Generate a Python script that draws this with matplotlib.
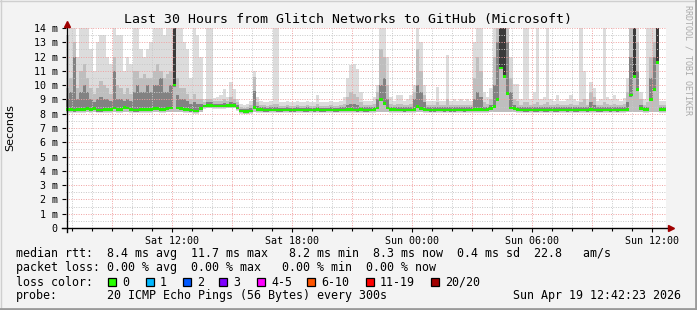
import numpy as np
import matplotlib
matplotlib.use("Agg")
import matplotlib.pyplot as plt
from matplotlib.lines import Line2D
from matplotlib.patches import Rectangle

# ---------------- data (10-minute bins, 30 hours starting Sat 06:42) ----------------
median = [
    8.3, 8.3, 8.25, 8.3, 8.3, 8.3, 8.35, 8.3, 8.35, 8.25,
    8.25, 8.3, 8.3, 8.3, 8.4, 8.3, 8.3, 8.45, 8.4, 8.3,
    8.25, 8.25, 8.3, 8.3, 8.3, 8.3, 8.35, 8.35, 8.3, 8.3,
    8.35, 8.4, 10.0, 8.4, 8.35, 8.3, 8.3, 8.25, 8.2, 8.2,
    8.35, 8.55, 8.58, 8.58, 8.55, 8.55, 8.55, 8.55, 8.57, 8.57,
    8.57, 8.4, 8.2, 8.15, 8.15, 8.2, 8.45, 8.3, 8.3, 8.25,
    8.25, 8.27, 8.27, 8.25, 8.25, 8.27, 8.27, 8.25, 8.25, 8.27,
    8.27, 8.25, 8.25, 8.27, 8.25, 8.3, 8.25, 8.25, 8.27, 8.27,
    8.25, 8.25, 8.27, 8.27, 8.3, 8.3, 8.27, 8.25, 8.3, 8.25,
    8.25, 8.27, 8.3, 8.4, 9.0, 8.7, 8.4, 8.3, 8.3, 8.27,
    8.27, 8.25, 8.27, 8.27, 8.3, 8.5, 8.35, 8.3, 8.27, 8.25,
    8.25, 8.27, 8.27, 8.25, 8.27, 8.25, 8.25, 8.27, 8.27, 8.25,
    8.27, 8.27, 8.3, 8.3, 8.3, 8.27, 8.3, 8.35, 8.5, 9.0,
    11.2, 10.6, 9.4, 8.4, 8.35, 8.3, 8.27, 8.25, 8.25, 8.27,
    8.25, 8.25, 8.27, 8.25, 8.25, 8.27, 8.25, 8.25, 8.27, 8.27,
    8.25, 8.27, 8.25, 8.25, 8.27, 8.27, 8.25, 8.3, 8.27, 8.25,
    8.25, 8.27, 8.27, 8.25, 8.27, 8.25, 8.27, 8.27, 8.3, 9.3,
    10.6, 9.7, 8.35, 8.3, 8.3, 9.0, 9.7, 11.6, 8.3, 8.3,
]

smoke_low = [
    8.05, 8.05, 8.05, 8.05, 8.05, 8.05, 8.1, 8.05, 8.1, 8.05,
    8.05, 8.05, 8.05, 8.05, 8.1, 8.05, 8.05, 8.1, 8.1, 8.05,
    8.05, 8.05, 8.05, 8.05, 8.05, 8.05, 8.1, 8.1, 8.05, 8.05,
    8.1, 8.1, 8.1, 8.1, 8.1, 8.05, 8.05, 8.05, 8.0, 8.0,
    8.1, 8.35, 8.38, 8.38, 8.35, 8.35, 8.35, 8.35, 8.37, 8.37,
    8.37, 8.2, 8.0, 7.95, 7.95, 8.0, 8.1, 8.05, 8.05, 8.05,
    8.05, 8.05, 8.05, 8.05, 8.05, 8.05, 8.05, 8.05, 8.05, 8.05,
    8.05, 8.05, 8.05, 8.05, 8.05, 8.05, 8.05, 8.05, 8.05, 8.05,
    8.05, 8.05, 8.05, 8.05, 8.05, 8.05, 8.05, 8.05, 8.05, 8.05,
    8.05, 8.05, 8.05, 8.1, 8.1, 8.1, 8.1, 8.05, 8.05, 8.05,
    8.05, 8.05, 8.05, 8.05, 8.05, 8.1, 8.1, 8.05, 8.05, 8.05,
    8.05, 8.05, 8.05, 8.05, 8.05, 8.05, 8.05, 8.05, 8.05, 8.05,
    8.05, 8.05, 8.05, 8.05, 8.05, 8.05, 8.05, 8.1, 8.1, 8.1,
    8.1, 8.1, 8.1, 8.1, 8.1, 8.05, 8.05, 8.05, 8.05, 8.05,
    8.05, 8.05, 8.05, 8.05, 8.05, 8.05, 8.05, 8.05, 8.05, 8.05,
    8.05, 8.05, 8.05, 8.05, 8.05, 8.05, 8.05, 8.05, 8.05, 8.05,
    8.05, 8.05, 8.05, 8.05, 8.05, 8.05, 8.05, 8.05, 8.1, 8.1,
    8.1, 8.1, 8.1, 8.05, 8.05, 8.1, 8.1, 8.1, 8.05, 8.05,
]

smoke_dark = [
    9.0, 9.5, 12.0, 9.0, 9.5, 10.0, 9.5, 9.0, 8.8, 9.0,
    9.2, 9.0, 9.0, 8.9, 11.0, 9.0, 9.0, 8.9, 9.0, 8.9,
    9.5, 10.0, 9.5, 9.5, 10.0, 9.5, 10.0, 10.0, 10.5, 9.5,
    9.5, 10.0, 14.0, 9.3, 9.0, 9.0, 8.9, 8.7, 8.8, 8.7,
    8.7, 8.6, 8.8, 8.8, 8.7, 8.7, 8.7, 8.75, 8.7, 8.8,
    8.75, 8.6, 8.35, 8.3, 8.3, 8.4, 9.6, 8.55, 8.45, 8.45,
    8.4, 8.45, 8.45, 8.45, 8.4, 8.4, 8.45, 8.4, 8.4, 8.45,
    8.4, 8.4, 8.45, 8.4, 8.4, 8.45, 8.4, 8.4, 8.4, 8.45,
    8.4, 8.4, 8.45, 8.5, 8.6, 8.7, 8.7, 8.6, 8.5, 8.45,
    8.45, 8.45, 8.5, 9.0, 10.0, 10.5, 9.0, 8.5, 8.45, 8.45,
    8.45, 8.45, 8.45, 8.5, 9.0, 10.0, 9.5, 8.8, 8.45, 8.45,
    8.45, 8.5, 8.45, 8.45, 8.5, 8.45, 8.45, 8.45, 8.45, 8.45,
    8.45, 8.45, 9.0, 9.5, 9.2, 8.5, 8.5, 8.6, 10.0, 13.0,
    14.0, 14.0, 13.0, 9.5, 8.6, 8.5, 8.45, 8.45, 8.45, 8.45,
    8.45, 8.45, 8.45, 8.45, 8.45, 8.45, 8.45, 8.45, 8.45, 8.45,
    8.45, 8.45, 8.45, 8.45, 8.45, 8.5, 8.45, 8.8, 8.6, 8.45,
    8.45, 8.45, 8.45, 8.45, 8.5, 8.45, 8.45, 8.45, 8.8, 12.0,
    14.0, 11.0, 8.6, 8.45, 8.45, 10.5, 12.0, 14.0, 8.45, 8.45,
]

smoke_mid = [
    9.8, 10.5, 13.0, 9.8, 11.0, 11.5, 10.5, 9.8, 9.4, 9.8,
    10.3, 10.0, 9.8, 9.4, 12.0, 10.0, 9.8, 9.4, 9.8, 9.4,
    11.0, 11.0, 10.5, 10.8, 10.5, 10.5, 11.0, 11.5, 11.0, 10.5,
    10.8, 11.0, 14.0, 10.5, 9.8, 9.8, 9.4, 9.0, 9.4, 9.0,
    9.0, 8.8, 9.0, 9.0, 8.9, 8.9, 8.9, 9.0, 8.9, 9.2,
    9.0, 8.8, 8.5, 8.4, 8.45, 8.6, 10.6, 8.8, 8.6, 8.6,
    8.55, 8.6, 8.7, 8.7, 8.55, 8.55, 8.6, 8.55, 8.55, 8.6,
    8.55, 8.55, 8.6, 8.55, 8.55, 8.7, 8.55, 8.55, 8.55, 8.6,
    8.55, 8.55, 8.6, 8.7, 9.2, 9.5, 9.4, 9.2, 8.8, 8.6,
    8.6, 8.6, 8.7, 9.5, 12.5, 12.0, 10.0, 8.7, 8.6, 8.7,
    8.7, 8.6, 8.6, 8.7, 9.5, 12.5, 11.0, 9.3, 8.6, 8.6,
    8.6, 8.8, 8.6, 8.6, 9.0, 8.6, 8.6, 8.6, 8.6, 8.6,
    8.6, 8.6, 10.5, 12.0, 11.0, 8.8, 8.7, 9.0, 12.0, 14.0,
    14.0, 14.0, 14.0, 10.5, 9.0, 8.9, 8.6, 8.8, 8.8, 8.6,
    8.7, 8.8, 8.6, 8.7, 8.8, 8.6, 8.6, 8.7, 8.6, 8.6,
    8.6, 8.7, 8.6, 8.6, 8.8, 9.0, 8.6, 9.5, 9.2, 8.6,
    8.6, 8.8, 8.7, 8.6, 8.7, 8.6, 8.6, 8.7, 9.5, 14.0,
    14.0, 13.0, 9.0, 8.6, 8.8, 12.0, 13.0, 14.0, 8.6, 8.6,
]

smoke_top = [
    13.5, 14.0, 14.0, 12.0, 14.0, 14.0, 14.0, 12.5, 11.0, 13.0,
    13.5, 13.5, 12.0, 11.5, 14.0, 13.5, 13.5, 11.0, 12.0, 11.5,
    14.0, 14.0, 12.5, 12.0, 12.5, 13.0, 14.0, 14.0, 14.0, 13.5,
    14.0, 14.0, 14.0, 14.0, 14.0, 13.0, 12.5, 10.5, 14.0, 13.5,
    12.0, 9.0, 14.0, 14.0, 9.1, 9.2, 9.3, 9.7, 9.2, 10.2,
    9.7, 9.0, 8.7, 8.6, 8.7, 8.9, 11.0, 9.2, 8.9, 8.8,
    8.8, 8.9, 14.0, 14.0, 8.8, 8.8, 8.9, 8.8, 8.8, 8.9,
    8.8, 8.8, 8.9, 8.8, 8.8, 9.3, 8.8, 8.8, 8.8, 8.9,
    8.8, 8.8, 8.9, 9.2, 10.5, 11.4, 11.5, 11.1, 9.5, 8.9,
    8.9, 8.9, 9.2, 10.0, 14.0, 14.0, 12.0, 9.2, 8.9, 9.3,
    9.3, 8.9, 9.0, 9.3, 10.0, 14.0, 13.0, 10.0, 8.9, 8.9,
    8.9, 9.9, 8.9, 8.9, 12.1, 8.9, 9.0, 8.9, 9.0, 8.9,
    9.0, 8.9, 13.0, 14.0, 14.0, 9.5, 9.2, 9.8, 14.0, 14.0,
    14.0, 14.0, 14.0, 12.0, 10.1, 10.1, 9.0, 14.0, 14.0, 9.0,
    9.5, 14.0, 9.0, 9.2, 14.0, 9.0, 8.9, 9.3, 8.9, 8.9,
    9.0, 9.3, 9.0, 8.9, 14.0, 11.0, 9.0, 10.2, 9.8, 8.9,
    9.0, 14.0, 9.2, 9.0, 9.3, 9.0, 8.9, 9.1, 10.5, 14.0,
    14.0, 14.0, 9.5, 9.0, 14.0, 14.0, 14.0, 14.0, 8.9, 8.9,
]

y_tick_values = [0, 1, 2, 3, 4, 5, 6, 7, 8, 9, 10, 11, 12, 13, 14]
y_tick_labels = ["0", "1 m", "2 m", "3 m", "4 m", "5 m", "6 m", "7 m", "8 m",
                 "9 m", "10 m", "11 m", "12 m", "13 m", "14 m"]
x_tick_hours = [5.3, 11.3, 17.3, 23.3, 29.3]       # hours after Sat 06:42
x_tick_labels = ["Sat 12:00", "Sat 18:00", "Sun 00:00", "Sun 06:00", "Sun 12:00"]
major_grid_hours = [2.3, 5.3, 8.3, 11.3, 14.3, 17.3, 20.3, 23.3, 26.3, 29.3]

title = "Last 30 Hours from Glitch Networks to GitHub (Microsoft)"
legend_rtt = "median rtt:  8.4 ms avg  11.7 ms max   8.2 ms min  8.3 ms now  0.4 ms sd  22.8   am/s"
legend_loss = "packet loss: 0.00 % avg  0.00 % max   0.00 % min  0.00 % now"
loss_labels = ["0", "1", "2", "3", "4-5", "6-10", "11-19", "20/20"]
loss_colors = ["#26ff00", "#00b8ff", "#0059ff", "#7e00ff", "#ff00ff", "#ff5500", "#ff0000", "#a10000"]
probe_text = "20 ICMP Echo Pings (56 Bytes) every 300s"
date_text = "Sun Apr 19 12:42:23 2026"
hours_span = 30
bin_minutes = 10

# ---------------- figure ----------------
W, H = 697, 310
fig = plt.figure(figsize=(W / 100, H / 100), dpi=100, facecolor="#f3f3f3")
MONO = "DejaVu Sans Mono"

def fx(px):
    return px / W

def fy(py):
    return 1 - py / H

ax_left, ax_right, ax_top, ax_bot = 66, 666, 28, 228
ax = fig.add_axes([fx(ax_left), fy(ax_bot), fx(ax_right - ax_left), (ax_bot - ax_top) / H])
ax.set_facecolor("white")
ax.set_xlim(0, hours_span)
ax.set_ylim(0, 14)

n = len(median)
edges = np.arange(n + 1) * bin_minutes / 60.0
med = np.array(median)
low = np.array(smoke_low)
dark = np.array(smoke_dark)
mid = np.array(smoke_mid)
top = np.array(smoke_top)

ax.stairs(top, edges, baseline=low, fill=True, color="#dcdcdc", zorder=2, lw=0)
ax.stairs(mid, edges, baseline=np.minimum(low + 0.05, mid), fill=True, color="#bebebe", zorder=3, lw=0)
ax.stairs(dark, edges, baseline=np.minimum(med - 0.1, dark), fill=True, color="#828282", zorder=4, lw=0)
core = np.where(dark >= 13.9, 14.0, med)
ax.stairs(core, edges, baseline=med, fill=True, color="#3a3a3a", zorder=4.5, lw=0)
band = 0.09
ax.stairs(med + band, edges, baseline=med - band, fill=True, color="#22f000", zorder=6, lw=0)

# grid
dot = (0, (1, 1.5))
for v in np.arange(0.5, 14.01, 0.5):
    if abs(v - round(v)) < 1e-6:
        ax.axhline(v, color="#f0a0a0", lw=0.7, ls=dot, zorder=5)
    else:
        ax.axhline(v, color="#c8c8c8", lw=0.7, ls=dot, zorder=5)
for h in np.arange(0.3, hours_span, 1.0):
    if any(abs(h - m) < 1e-6 for m in major_grid_hours):
        ax.axvline(h, color="#f0a0a0", lw=0.7, ls=dot, zorder=5)
    else:
        ax.axvline(h, color="#c8c8c8", lw=0.7, ls=dot, zorder=5)

for s in ax.spines.values():
    s.set_visible(False)

ax.set_yticks(y_tick_values)
ax.set_yticklabels(y_tick_labels, fontfamily=MONO, fontsize=7.2)
ax.set_xticks(x_tick_hours)
ax.set_xticklabels(x_tick_labels, fontfamily=MONO, fontsize=7.2)
ax.set_xticks(np.arange(0.3, hours_span, 1.0), minor=True)
ax.tick_params(axis="y", length=3, width=0.8, pad=3, direction="out")
ax.tick_params(axis="x", which="major", length=3, width=0.8, pad=3, direction="out")
ax.tick_params(axis="x", which="minor", length=2, width=0.8, direction="out")

# axis lines with arrows
fig.add_artist(Line2D([fx(ax_left + 0.5), fx(ax_left + 0.5)], [fy(ax_bot + 4), fy(24)],
                      color="black", lw=1))
fig.add_artist(Line2D([fx(62), fx(670)], [fy(ax_bot), fy(ax_bot)], color="black", lw=1))
fig.add_artist(Line2D([fx(ax_left + 0.5)], [fy(24)], marker="^", color="#a00000", ms=4.5, mec="#a00000"))
fig.add_artist(Line2D([fx(671)], [fy(ax_bot)], marker=">", color="#a00000", ms=4.5, mec="#a00000"))

# title and labels
fig.text(0.5, fy(19), title, ha="center", va="center", fontfamily=MONO, fontsize=9.5)
fig.text(fx(10), fy(128), "Seconds", rotation=90, ha="center", va="center",
         fontfamily="DejaVu Sans", fontsize=8)
fig.text(fx(688), fy(5), "RRDTOOL / TOBI OETIKER", rotation=270, ha="center", va="top",
         fontfamily=MONO, fontsize=6, color="#aaaaaa")

# legend
LX = 16
fs = 8.35
fig.text(fx(LX), fy(254), legend_rtt, ha="left", va="center", fontfamily=MONO, fontsize=fs)
fig.text(fx(LX), fy(268), legend_loss, ha="left", va="center", fontfamily=MONO, fontsize=fs)
fig.text(fx(LX), fy(282), "loss color:", ha="left", va="center", fontfamily=MONO, fontsize=fs)
box_x = [108, 146, 183, 219, 257, 307, 366, 431]
for bx, lab, col in zip(box_x, loss_labels, loss_colors):
    fig.add_artist(Rectangle((fx(bx), fy(286)), fx(8), 8 / H, facecolor=col,
                             edgecolor="black", lw=0.9))
    fig.text(fx(bx + 14), fy(282), lab, ha="left", va="center", fontfamily=MONO, fontsize=fs)
fig.text(fx(LX), fy(296), "probe:", ha="left", va="center", fontfamily=MONO, fontsize=fs)
fig.text(fx(107), fy(296), probe_text, ha="left", va="center", fontfamily=MONO, fontsize=fs)
fig.text(fx(681), fy(296), date_text, ha="right", va="center", fontfamily=MONO, fontsize=fs)

# 3D frame
fig.add_artist(Line2D([0, 1], [fy(0.5), fy(0.5)], color="#cfcfcf", lw=1))
fig.add_artist(Line2D([fx(0.5), fx(0.5)], [0, 1], color="#cfcfcf", lw=1))
fig.add_artist(Line2D([0, 1], [fy(309), fy(309)], color="#9a9a9a", lw=2))
fig.add_artist(Line2D([fx(696), fx(696)], [0, 1], color="#9a9a9a", lw=2))

fig.savefig("out.png", dpi=100, facecolor=fig.get_facecolor())
